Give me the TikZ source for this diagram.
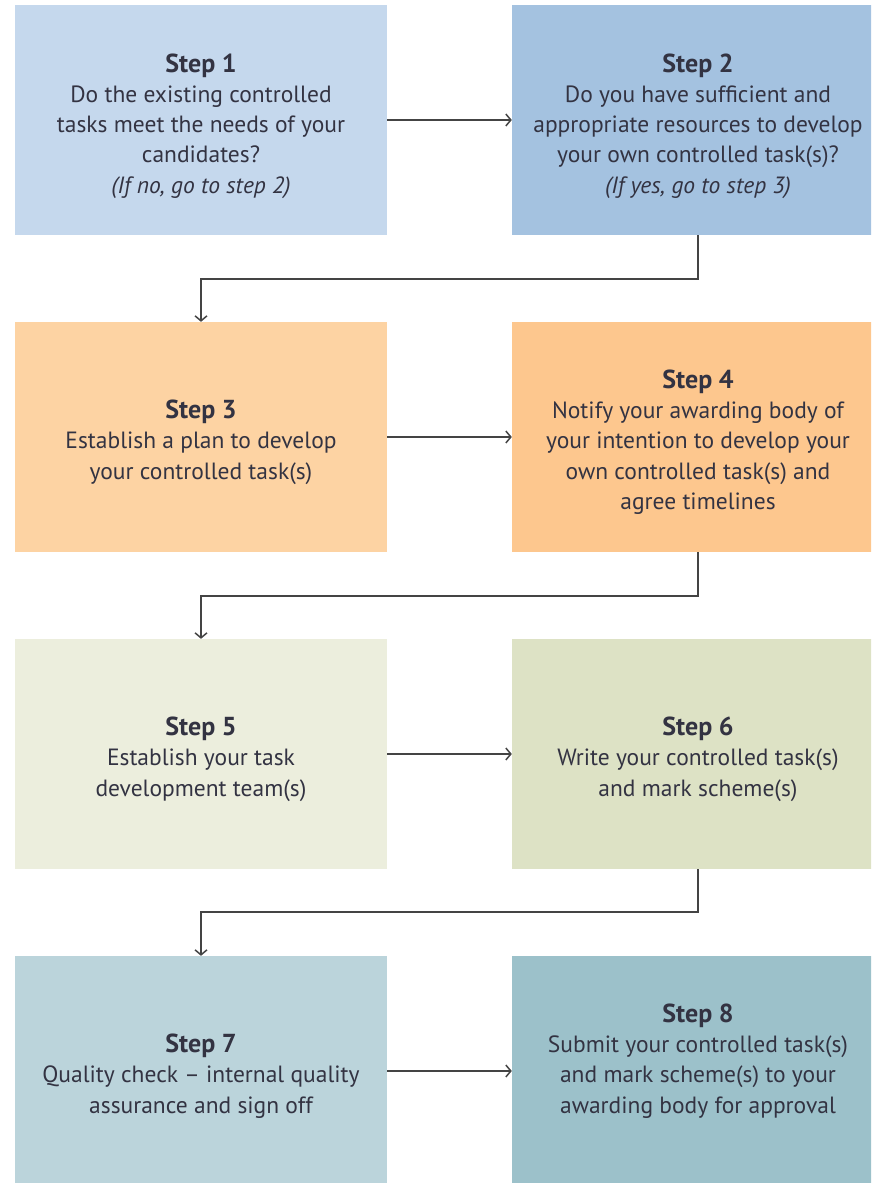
\documentclass[tikz,border=0pt]{standalone}
\usepackage{fontspec}
\setmainfont{PT Sans}
\usetikzlibrary{arrows.meta}
\definecolor{c1}{HTML}{C5D8ED}
\definecolor{c2}{HTML}{A4C2E0}
\definecolor{c3}{HTML}{FDD3A3}
\definecolor{c4}{HTML}{FDC78E}
\definecolor{c5}{HTML}{ECEEDD}
\definecolor{c6}{HTML}{DDE2C5}
\definecolor{c7}{HTML}{BBD4DB}
\definecolor{c8}{HTML}{9CC1CA}
\definecolor{ink}{HTML}{333342}
\definecolor{linec}{HTML}{444444}
\newcommand{\stp}[1]{{\fontsize{26}{31}\selectfont\bfseries #1}}
\begin{document}
\begin{tikzpicture}[x=1pt,y=-1pt,
  box/.style={minimum width=372pt,minimum height=230pt,inner sep=0pt},
  txt/.style={inner sep=0pt,align=center,text=ink,font=\fontsize{23.5}{30.3}\selectfont},
  arr/.style={draw=linec,line width=1.5pt,-{Straight Barb[length=5pt,width=12pt]}}]
\useasboundingbox (0,0) rectangle (871,1183);
\clip (0,0) rectangle (871,1183);
\node[box,fill=c1] (s1) at (201,120) {};
\node[box,fill=c2] (s2) at (698,120) {};
\node[box,fill=c3] (s3) at (201,437) {};
\node[box,fill=c4] (s4) at (698,437) {};
\node[box,fill=c5] (s5) at (201,754) {};
\node[box,fill=c6] (s6) at (698,754) {};
\node[box,fill=c7] (s7) at (201,1071) {};
\node[box,fill=c8] (s8) at (698,1071) {};
\node[txt] (t1) at ([yshift=-6pt]s1.center) {\stp{Step 1}\\Do the existing controlled\\tasks meet the needs of your\\candidates?\\\textit{(If no, go to step 2)}};
\node[txt] (t2) at ([yshift=-6pt]s2.center) {\stp{Step 2}\\Do you have sufficient and\\appropriate resources to develop\\your own controlled task(s)?\\\textit{(If yes, go to step 3)}};
\node[txt] (t3) at ([yshift=-5pt]s3.center) {\stp{Step 3}\\Establish a plan to develop\\your controlled task(s)};
\node[txt] (t4) at ([yshift=-5pt]s4.center) {\stp{Step 4}\\Notify your awarding body of\\your intention to develop your\\own controlled task(s) and\\agree timelines};
\node[txt] (t5) at ([yshift=-5pt]s5.center) {\stp{Step 5}\\Establish your task\\development team(s)};
\node[txt] (t6) at ([yshift=-5pt]s6.center) {\stp{Step 6}\\Write your controlled task(s)\\and mark scheme(s)};
\node[txt] (t7) at ([yshift=-5pt]s7.center) {\stp{Step 7}\\Quality check -- internal quality\\assurance and sign off};
\node[txt] (t8) at ([yshift=10pt]s8.center) {\stp{Step 8}\\Submit your controlled task(s)\\and mark scheme(s) to your\\awarding body for approval};
\draw[arr] (s1.east) -- (s2.west);
\draw[arr] (s3.east) -- (s4.west);
\draw[arr] (s5.east) -- (s6.west);
\draw[arr] (s7.east) -- (s8.west);
\draw[arr] (s2.south) -- ++(0,44) -| (s3.north);
\draw[arr] (s4.south) -- ++(0,44) -| (s5.north);
\draw[arr] (s6.south) -- ++(0,43) -| (s7.north);
\end{tikzpicture}
\end{document}
